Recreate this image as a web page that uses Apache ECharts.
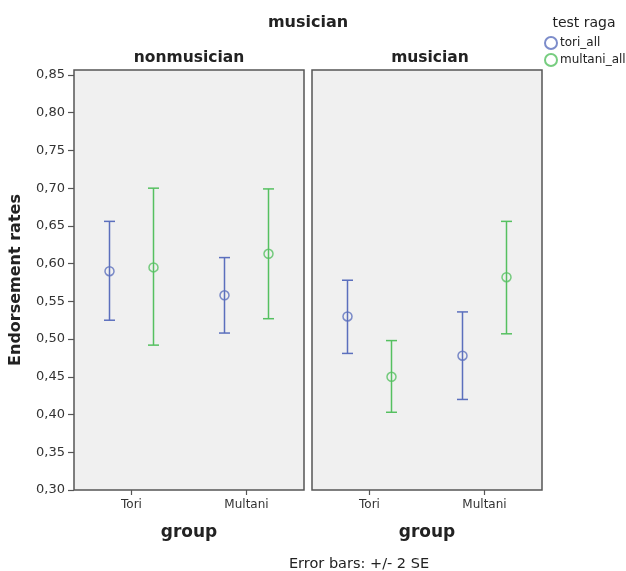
<!DOCTYPE html>
<html><head><meta charset="utf-8">
<script src="https://cdn.jsdelivr.net/npm/echarts@6/dist/echarts.min.js"></script>
<style>html,body{margin:0;padding:0;background:#fff}#c{width:626px;height:571px}</style>
</head><body><div id="c"></div>
<script>
const categories = ['Tori', 'Multani'];
const panelTitles = ['nonmusician', 'musician'];
const yTicks = [0.30, 0.35, 0.40, 0.45, 0.50, 0.55, 0.60, 0.65, 0.70, 0.75, 0.80, 0.85];
const seriesNames = ['tori_all', 'multani_all'];

// nonmusician panel
const nonmusToriMean = [0.590, 0.558];
const nonmusToriLow = [0.525, 0.508];
const nonmusToriHigh = [0.656, 0.608];
const nonmusMultaniMean = [0.595, 0.613];
const nonmusMultaniLow = [0.492, 0.527];
const nonmusMultaniHigh = [0.700, 0.699];
// musician panel
const musToriMean = [0.530, 0.478];
const musToriLow = [0.481, 0.420];
const musToriHigh = [0.578, 0.536];
const musMultaniMean = [0.450, 0.582];
const musMultaniLow = [0.403, 0.507];
const musMultaniHigh = [0.498, 0.656];

const BLUE = '#5b6fbd';
const GREEN = '#55c060';
const FONT = 'DejaVu Sans';
const OFFSET = 22;

const panels = [
  {tori: [nonmusToriMean, nonmusToriLow, nonmusToriHigh], mult: [nonmusMultaniMean, nonmusMultaniLow, nonmusMultaniHigh]},
  {tori: [musToriMean, musToriLow, musToriHigh], mult: [musMultaniMean, musMultaniLow, musMultaniHigh]}
];

const gridLefts = [74, 312];
const grids = gridLefts.map(l => ({
  left: l, top: 70, width: 230, height: 420,
  show: true, backgroundColor: '#f0f0f0', borderColor: '#555', borderWidth: 1.5
}));

const xAxes = [0, 1].map(i => ({
  type: 'category', gridIndex: i, data: categories,
  axisLine: {show: false},
  axisTick: {show: true, alignWithLabel: true, length: 5, lineStyle: {color: '#555', width: 1.2}},
  axisLabel: {fontFamily: FONT, fontSize: 12, color: '#333', margin: 9},
  name: 'group', nameLocation: 'middle', nameGap: 34,
  nameTextStyle: {fontFamily: FONT, fontSize: 17, fontWeight: 'bold', color: '#222'}
}));

const yAxes = [0, 1].map(i => ({
  type: 'value', gridIndex: i, min: 0.30, max: 0.8566,
  splitLine: {show: false},
  axisLine: {show: false},
  axisTick: {show: i === 0, length: 6, customValues: yTicks, lineStyle: {color: '#555', width: 1.2}},
  axisLabel: {show: i === 0, customValues: yTicks, fontFamily: FONT, fontSize: 13, color: '#333', margin: 9,
    formatter: v => v.toFixed(2).replace('.', ',')},
  name: i === 0 ? 'Endorsement rates' : '', nameLocation: 'middle', nameGap: 50, nameRotate: 90,
  nameTextStyle: {fontFamily: FONT, fontSize: 16, fontWeight: 'bold', color: '#222'}
}));

const series = [];
panels.forEach((p, gi) => {
  [['tori', BLUE, -OFFSET, seriesNames[0]], ['mult', GREEN, OFFSET, seriesNames[1]]].forEach(([k, col, off, nm]) => {
    const [mean, low, high] = p[k];
    series.push({
      type: 'custom', name: nm + '_err', xAxisIndex: gi, yAxisIndex: gi, silent: true,
      data: categories.map((c, ci) => [ci, low[ci], high[ci]]),
      renderItem: (params, api) => {
        const lo = api.coord([api.value(0), api.value(1)]);
        const hi = api.coord([api.value(0), api.value(2)]);
        const x = lo[0] + off;
        const cw = 5.5;
        const st = {stroke: col, lineWidth: 1.5};
        return {type: 'group', children: [
          {type: 'line', shape: {x1: x, y1: lo[1], x2: x, y2: hi[1]}, style: st},
          {type: 'line', shape: {x1: x - cw, y1: lo[1], x2: x + cw, y2: lo[1]}, style: st},
          {type: 'line', shape: {x1: x - cw, y1: hi[1], x2: x + cw, y2: hi[1]}, style: st}
        ]};
      }
    });
    series.push({
      type: 'scatter', name: nm, xAxisIndex: gi, yAxisIndex: gi,
      data: categories.map((c, ci) => [ci, mean[ci]]),
      symbol: 'circle', symbolSize: 9, symbolOffset: [off, 0],
      itemStyle: {color: 'rgba(0,0,0,0)', borderColor: col, borderWidth: 1.5},
      z: 3
    });
  });
});

const chart = echarts.init(document.getElementById('c'), null, {renderer: 'canvas'});
chart.setOption({
  animation: false,
  title: [
    {text: 'musician', left: 308, top: 15, padding: 0, textAlign: 'center',
      textStyle: {fontFamily: FONT, fontSize: 16, fontWeight: 'bold', color: '#222'}},
    {text: panelTitles[0], left: 189, top: 50, padding: 0, textAlign: 'center',
      textStyle: {fontFamily: FONT, fontSize: 15.5, fontWeight: 'bold', color: '#222'}},
    {text: panelTitles[1], left: 430, top: 50, padding: 0, textAlign: 'center',
      textStyle: {fontFamily: FONT, fontSize: 15.5, fontWeight: 'bold', color: '#222'}},
    {text: 'test raga', left: 584, top: 16, padding: 0, textAlign: 'center',
      textStyle: {fontFamily: FONT, fontSize: 14, fontWeight: 'normal', color: '#222'}},
    {text: 'Error bars: +/- 2 SE', left: 359, top: 557, padding: 0, textAlign: 'center',
      textStyle: {fontFamily: FONT, fontSize: 14.5, fontWeight: 'normal', color: '#222'}}
  ],
  legend: {
    orient: 'vertical', left: 544, top: 36, padding: 0, itemWidth: 12, itemHeight: 12, itemGap: 3,
    icon: 'circle',
    data: [seriesNames[0], seriesNames[1]],
    textStyle: {fontFamily: FONT, fontSize: 12, color: '#222', padding: [0, 0, 0, -2]}
  },
  grid: grids,
  xAxis: xAxes,
  yAxis: yAxes,
  series: series
});
</script>
</body></html>
